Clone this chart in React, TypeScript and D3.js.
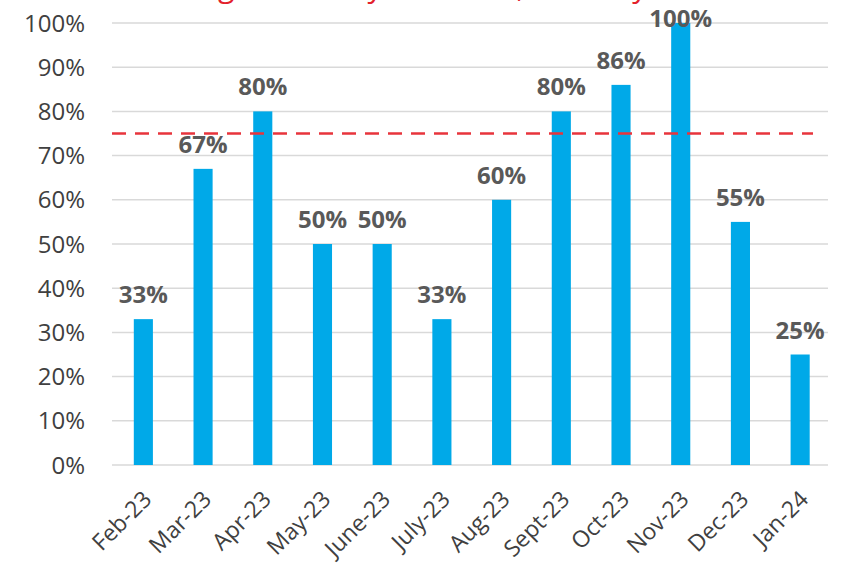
import React from "react";
import * as d3 from "d3";

// Monthly percentages with a 75% target line
const months = ["Feb-23", "Mar-23", "Apr-23", "May-23", "June-23", "July-23", "Aug-23", "Sept-23", "Oct-23", "Nov-23", "Dec-23", "Jan-24"];
const values = [33, 67, 80, 50, 50, 33, 60, 80, 86, 100, 55, 25];
const yTicks = [0, 10, 20, 30, 40, 50, 60, 70, 80, 90, 100];
const target = 75;
const title = "Target Delivery Achieved, Monthly";

const W = 841;
const H = 570;
const FONT = "'Open Sans', 'Liberation Sans', sans-serif";

export default function App() {
  const x = d3.scaleBand<string>().domain(months).range([113.5, 830]).paddingInner(0.68).paddingOuter(0.34);
  const y = d3.scaleLinear().domain([0, 100]).range([465, 23]);

  return (
    <svg width={W} height={H} style={{ position: "absolute", left: 0, top: 0, background: "#fff" }}>
      <text x={410} y={-3} textAnchor="middle" fontFamily={FONT} fontSize={30} fill="#e3212b">
        {title}
      </text>

      {yTicks.map((t) => (
        <g key={t}>
          <line x1={112} x2={828} y1={y(t)} y2={y(t)} stroke="#d9d9d9" strokeWidth={1.5} />
          <text x={85} y={y(t)} dy="0.36em" textAnchor="end" fontFamily={FONT} fontSize={24} fill="#404040">
            {t}%
          </text>
        </g>
      ))}

      {months.map((m, i) => {
        const v = values[i];
        const bx = x(m)!;
        const bw = x.bandwidth();
        const labelY = Math.max(y(v) - 16, 27);
        return (
          <g key={m}>
            <rect x={bx} y={y(v)} width={bw} height={y(0) - y(v)} fill="#00a9e8" />
            <text x={bx + bw / 2} y={labelY} textAnchor="middle" fontFamily={FONT} fontWeight="bold" fontSize={24} fill="#595959">
              {v}%
            </text>
            <text
              transform={`translate(${bx + bw / 2 + 4},${495}) rotate(-45)`}
              textAnchor="end"
              dy="0.35em"
              fontFamily={FONT}
              fontSize={23}
              fill="#404040"
            >
              {m}
            </text>
          </g>
        );
      })}

      <line x1={112} x2={813} y1={y(target)} y2={y(target)} stroke="#e8343c" strokeWidth={2.5} strokeDasharray="14 9" />
    </svg>
  );
}
